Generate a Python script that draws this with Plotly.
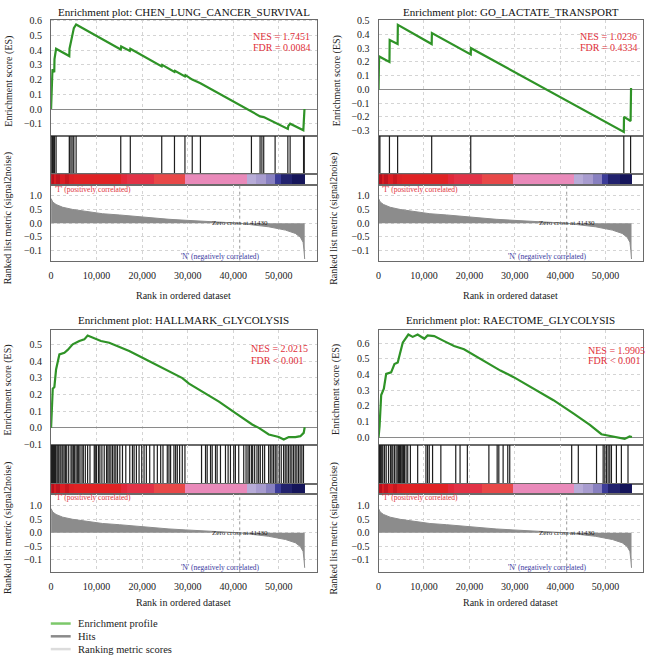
import plotly.graph_objects as go

# ---------------- data ----------------
gene_sets = ["CHEN_LUNG_CANCER_SURVIVAL", "GO_LACTATE_TRANSPORT",
             "HALLMARK_GLYCOLYSIS", "RAECTOME_GLYCOLYSIS"]
nes_text = ["NES = 1.7451", "NES = 1.0236", "NES = 2.0215", "NES = 1.9905"]
fdr_text = ["FDR = 0.0084", "FDR = 0.4334", "FDR < 0.001", "FDR < 0.001"]

chen_es_rank = [0, 100, 150, 300, 700, 750, 1100, 4000, 4050, 4400, 4800, 5000, 5500,
                15300, 15400, 17300, 17400, 24300, 24400, 27100, 27200, 29400, 29500,
                31000, 32800, 43000, 45900, 46700, 49200, 52000, 52100, 52500, 55400,
                55500, 55650]
chen_es_val = [0.0, 0.10, 0.27, 0.27, 0.25, 0.34, 0.41, 0.36, 0.41, 0.46, 0.50, 0.55, 0.575,
               0.405, 0.425, 0.395, 0.41, 0.29, 0.30, 0.252, 0.26, 0.222, 0.23,
               0.20, 0.175, 0.0, -0.05, -0.055, -0.092, -0.135, -0.115, -0.10, -0.145,
               -0.078, 0.0]
chen_hits = [150, 300, 500, 750, 1100, 4000, 4100, 4400, 4800, 5000, 5500, 15300, 17400,
             24300, 27100, 29400, 31000, 32800, 44000, 45900, 46300, 46700, 49200, 52000,
             52500, 55450, 55600]

lact_es_rank = [0, 120, 2400, 2450, 4200, 4250, 11700, 11750, 20300, 20350, 54000, 54050,
                55500, 55600]
lact_es_val = [0.0, 0.24, 0.20, 0.36, 0.33, 0.47, 0.33, 0.41, 0.255, 0.30, -0.31, -0.20,
               -0.23, 0.01]
lact_hits = [100, 300, 2400, 4200, 11700, 20300, 54000, 55500]

hall_es_rank = [0, 365, 730, 1095, 1825, 2920, 3650, 4745, 6205, 7300, 8030, 9125, 10585,
                10950, 12775, 14965, 17155, 20075, 22995, 25915, 28835, 30295, 33215,
                36865, 40515, 44165, 45625, 47815, 50005, 51100, 52195, 53655, 54750,
                55480, 55700]
hall_es_val = [0.0, 0.235, 0.245, 0.35, 0.44, 0.45, 0.467, 0.50, 0.52, 0.53, 0.553, 0.54,
               0.525, 0.52, 0.51, 0.486, 0.46, 0.42, 0.38, 0.343, 0.298, 0.265, 0.216,
               0.157, 0.088, 0.02, 0.0, -0.04, -0.055, -0.07, -0.055, -0.055, -0.05,
               -0.03, 0.004]
hall_hits = [10, 120, 230, 340, 450, 560, 670, 780, 890, 1000, 1100, 1465, 1685, 1975,
             2195, 2560, 2850, 3140, 3435, 3870, 4380, 4600, 4890, 5110, 5475, 5765, 6060,
             6350, 6790, 7080, 7520, 8025, 8540, 9480, 9700, 9995, 10430, 10720, 11160,
             11670, 12180, 12475, 12765, 13130, 13495, 13860, 14220, 14590, 15100, 15680,
             16410, 17280, 17870, 18230, 18740, 19325, 19910, 20420, 20930, 21660, 22610,
             23340, 24070, 24580, 25520, 25890, 26250, 26980, 27355, 27720, 28230, 28815,
             29400, 33045, 33920, 34285, 35015, 35380, 36110, 36470, 37200, 38300, 38880,
             39390, 40120, 40480, 41210, 42310, 42820, 43250, 43550, 43985, 44275, 44710,
             45220, 45590, 45950, 46460, 46900, 47775, 48140, 48505, 48870, 49235, 49600,
             50110, 50550, 51060, 51420, 51785, 52150, 52515, 52880, 53250, 53610, 53975,
             54340, 54700, 55070, 55430]

reac_es_rank = [0, 220, 583, 1167, 1677, 2771, 3500, 4230, 4595, 5325, 6565, 7515, 8610,
                10070, 10800, 12255, 14440, 16630, 18820, 21000, 23920, 26840, 29760,
                34130, 38510, 42880, 46530, 49080, 50900, 53090, 54190, 55280, 55790]
reac_es_val = [0.0, 0.07, 0.27, 0.31, 0.405, 0.415, 0.468, 0.478, 0.52, 0.604, 0.656,
               0.641, 0.656, 0.629, 0.65, 0.646, 0.614, 0.583, 0.562, 0.524, 0.478, 0.426,
               0.384, 0.31, 0.237, 0.153, 0.08, 0.02, 0.01, 0.0, -0.01, 0.006, 0.002]
reac_hits = [50, 226, 400, 591, 780, 956, 1320, 1685, 2195, 2633, 2925, 3144, 3508, 3873,
             4237, 4420, 4602, 4821, 5113, 5332, 5520, 5696, 6061, 6426, 7009, 8613, 10436,
             10801, 11166, 11895, 13718, 17000, 17948, 19553, 24294, 26117, 26482, 27430,
             28451, 28889, 42527, 43986, 47997, 49456, 49821, 50186, 50550, 50915, 51280,
             52374, 53468, 54927]

metric_rank = [0, 365, 1100, 2550, 4750, 7650, 11300, 15000, 18600, 22300, 25900, 29600,
               33200, 36900, 41430, 44200, 47800, 51500, 53650, 54750, 55350, 55550, 55700]
metric_val = [0.90, 0.77, 0.68, 0.58, 0.50, 0.42, 0.345, 0.30, 0.24, 0.19, 0.143, 0.107,
              0.071, 0.036, 0.0, -0.06, -0.13, -0.25, -0.37, -0.51, -0.69, -0.99, -1.30]
zero_cross = 41430

cbar_start = [0, 600, 1200, 2000, 3000, 4000, 5000, 15300, 16600, 22600, 29400, 43000,
              45000, 47200, 49200, 50500, 53000]
cbar_end = [600, 1200, 2000, 3000, 4000, 5000, 15300, 16600, 22600, 29400, 43000, 45000,
            47200, 49200, 50500, 53000, 55700]
cbar_color = ["#b8101c", "#d81c22", "#c01420", "#dc1e24", "#c8181f", "#dc2024", "#e02224",
              "#e2283a", "#e23246", "#e84848", "#e98aba", "#b8acd8", "#a89ccf", "#8880c0",
              "#3c3c98", "#22226e", "#15155a"]

x_tick_vals = [0, 10000, 20000, 30000, 40000, 50000]
x_tick_text = ["0", "10,000", "20,000", "30,000", "40,000", "50,000"]
r_tick_vals = [1.0, 0.5, 0.0, -0.5, -1.0]
r_tick_text = ["1.0", "0.5", "0.0", "\u22120.5", "\u22120.1"]

es_ranks = [chen_es_rank, lact_es_rank, hall_es_rank, reac_es_rank]
es_vals = [chen_es_val, lact_es_val, hall_es_val, reac_es_val]
hits_all = [chen_hits, lact_hits, hall_hits, reac_hits]

# ---------------- layout geometry (pixels) ----------------
W, H = 647, 661
FONT = "Liberation Serif"
X_RANGE = [0, 58300]

panels = [
    dict(x=(48.3, 315.0), rows=(15, 133, 172, 183, 260), es_range=(-0.182, 0.607),
         r_range=(-1.36, 1.39), title_y=7, xlab_y=295, nes=(249, 32, 43),
         eslab=(6, 77), rlab=(5, 217), n_y=-1.21),
    dict(x=(377.3, 643.3), rows=(15, 133, 172, 183, 260), es_range=(-0.338, 0.507),
         r_range=(-1.36, 1.39), title_y=7, xlab_y=295, nes=(578, 32, 43),
         eslab=(335, 77), rlab=(333, 217), n_y=-1.21),
    dict(x=(48.3, 315.0), rows=(330, 447, 487, 497, 577), es_range=(-0.1, 0.589),
         r_range=(-1.47, 1.45), title_y=320, xlab_y=608, nes=(247, 349, 362),
         eslab=(6, 391), rlab=(5, 532), n_y=-1.27),
    dict(x=(377.3, 643.3), rows=(330, 447, 487, 497, 577), es_range=(-0.046, 0.688),
         r_range=(-1.47, 1.45), title_y=320, xlab_y=608, nes=(586, 351, 362),
         eslab=(335, 391), rlab=(333, 532), n_y=-1.27),
]


def px_x(p):
    return p / W


def px_y(p):
    return 1 - p / H


def aid(n):
    return "" if n == 1 else str(n)


fig = go.Figure()
layout = dict(width=W, height=H, margin=dict(l=0, r=0, t=0, b=0), autosize=False,
              paper_bgcolor="white", plot_bgcolor="white", showlegend=False,
              bargap=0, barmode="overlay",
              font=dict(family=FONT, size=10, color="#222"))
annotations = []
shapes = []

LINE_C = "#6a6a6a"
GRID_C = "#d4d4d4"
tickfont = dict(family=FONT, size=10, color="#222")

for k, p in enumerate(panels):
    x0, x1 = p["x"]
    r0, r1, r2, r3, r4 = p["rows"]
    dom_x = [px_x(x0), px_x(x1)]
    row_doms = [[px_y(r1), px_y(r0)], [px_y(r2), px_y(r1)],
                [px_y(r3), px_y(r2)], [px_y(r4), px_y(r3)]]
    base = k * 4
    for r in range(4):
        n = base + r + 1
        xa = dict(domain=dom_x, range=X_RANGE, anchor="y" + aid(n), showline=True,
                  mirror=True, linecolor=LINE_C, linewidth=1, zeroline=False,
                  showgrid=(r != 2), gridcolor=GRID_C, griddash="dot", gridwidth=1,
                  tickvals=x_tick_vals, ticks="", showticklabels=(r == 3),
                  ticktext=x_tick_text, tickfont=tickfont, ticklabelstandoff=5,
                  fixedrange=True)
        ya = dict(domain=row_doms[r], anchor="x" + aid(n), showline=True, mirror=True,
                  linecolor=LINE_C, linewidth=1, ticks="", tickfont=tickfont,
                  ticklabelstandoff=6, fixedrange=True)
        if r == 0:
            ya.update(range=list(p["es_range"]), dtick=0.1, tickformat=".1f",
                      showgrid=True, gridcolor=GRID_C, griddash="dot",
                      zeroline=True, zerolinecolor="#8a8a8a", zerolinewidth=1)
        elif r == 1:
            ya.update(range=[0, 1], showgrid=False, zeroline=False, showticklabels=False)
        elif r == 2:
            ya.update(range=[-0.5, 0.5], showgrid=False, zeroline=False,
                      showticklabels=False)
        else:
            ya.update(range=list(p["r_range"]), tickvals=r_tick_vals,
                      ticktext=r_tick_text, showgrid=True, gridcolor=GRID_C,
                      griddash="dot", zeroline=False)
        layout["xaxis" + aid(n)] = xa
        layout["yaxis" + aid(n)] = ya

    xs = lambda r: "x" + aid(base + r + 1)
    ys = lambda r: "y" + aid(base + r + 1)

    # enrichment profile
    fig.add_trace(go.Scatter(x=es_ranks[k], y=es_vals[k], mode="lines",
                             line=dict(color="#2f9327", width=2.2),
                             xaxis=xs(0), yaxis=ys(0), hoverinfo="skip"))
    # hits
    hx, hy = [], []
    for h in hits_all[k]:
        hx += [h, h, None]
        hy += [0, 1, None]
    fig.add_trace(go.Scatter(x=hx, y=hy, mode="lines",
                             line=dict(color="#1e1e1e", width=1.2),
                             xaxis=xs(1), yaxis=ys(1), hoverinfo="skip"))
    # colour bar of ranked list
    fig.add_trace(go.Bar(orientation="h", base=cbar_start,
                         x=[e - s for s, e in zip(cbar_start, cbar_end)],
                         y=[0] * len(cbar_start), width=1,
                         marker=dict(color=cbar_color, line=dict(width=0)),
                         xaxis=xs(2), yaxis=ys(2), hoverinfo="skip"))
    # ranked list metric
    fig.add_trace(go.Scatter(x=metric_rank, y=metric_val, mode="lines", fill="tozeroy",
                             fillcolor="#8c8c8c", line=dict(color="#8c8c8c", width=1),
                             xaxis=xs(3), yaxis=ys(3), hoverinfo="skip"))
    fig.add_trace(go.Scatter(x=[zero_cross, zero_cross], y=list(p["r_range"]),
                             mode="lines", line=dict(color="#999", width=1, dash="dot"),
                             xaxis=xs(3), yaxis=ys(3), hoverinfo="skip"))

    cx = px_x((x0 + x1) / 2)
    annotations += [
        dict(text="Enrichment plot: " + gene_sets[k], x=cx, y=px_y(p["title_y"]),
             xref="paper", yref="paper", xanchor="center", yanchor="middle",
             showarrow=False, font=dict(family=FONT, size=11, color="#111")),
        dict(text=nes_text[k], x=px_x(p["nes"][0]), y=px_y(p["nes"][1]),
             xref="paper", yref="paper", xanchor="left", yanchor="middle",
             showarrow=False, font=dict(family=FONT, size=10, color="#e0303a")),
        dict(text=fdr_text[k], x=px_x(p["nes"][0]), y=px_y(p["nes"][2]),
             xref="paper", yref="paper", xanchor="left", yanchor="middle",
             showarrow=False, font=dict(family=FONT, size=10, color="#e0303a")),
        dict(text="Enrichment score (ES)", x=px_x(p["eslab"][0]), y=px_y(p["eslab"][1]),
             xref="paper", yref="paper", xanchor="center", yanchor="middle",
             textangle=-90, showarrow=False, font=dict(family=FONT, size=10, color="#222")),
        dict(text="Ranked list metric (signal2noise)", x=px_x(p["rlab"][0]),
             y=px_y(p["rlab"][1]), xref="paper", yref="paper", xanchor="center",
             yanchor="middle", textangle=-90, showarrow=False,
             font=dict(family=FONT, size=10, color="#222")),
        dict(text="Rank in ordered dataset", x=cx, y=px_y(p["xlab_y"]),
             xref="paper", yref="paper", xanchor="center", yanchor="middle",
             showarrow=False, font=dict(family=FONT, size=10, color="#222")),
        dict(text="'T' (positively correlated)", x=400, y=p["r_range"][1] - 0.15,
             xref=xs(3), yref=ys(3), xanchor="left", yanchor="middle", showarrow=False,
             font=dict(family=FONT, size=7.5, color="#e0303a")),
        dict(text="'N' (negatively correlated)", x=37100, y=p["n_y"],
             xref=xs(3), yref=ys(3), xanchor="center", yanchor="middle", showarrow=False,
             font=dict(family=FONT, size=7.5, color="#3a3aa0")),
        dict(text="Zero cross at " + str(zero_cross), x=zero_cross, y=0,
             xref=xs(3), yref=ys(3), xanchor="center", yanchor="middle", showarrow=False,
             font=dict(family=FONT, size=7, color="#222")),
    ]

# legend (drawn as decoration)
legend_items = [("Enrichment profile", "#7cc86a", 629),
                ("Hits", "#8a8a8a", 642),
                ("Ranking metric scores", "#dcdcdc", 655)]
for label, col, yy in legend_items:
    shapes.append(dict(type="line", xref="paper", yref="paper", x0=px_x(48), x1=px_x(68),
                       y0=px_y(yy), y1=px_y(yy), line=dict(color=col, width=2.5)))
    annotations.append(dict(text=label, x=px_x(73), y=px_y(yy), xref="paper",
                            yref="paper", xanchor="left", yanchor="middle",
                            showarrow=False,
                            font=dict(family=FONT, size=10.5, color="#222")))

layout["annotations"] = annotations
layout["shapes"] = shapes
fig.update_layout(**layout)

fig.write_html("out.html", config={"displayModeBar": False},
               post_script="document.body.style.margin='0';document.body.style.overflow='hidden';")
